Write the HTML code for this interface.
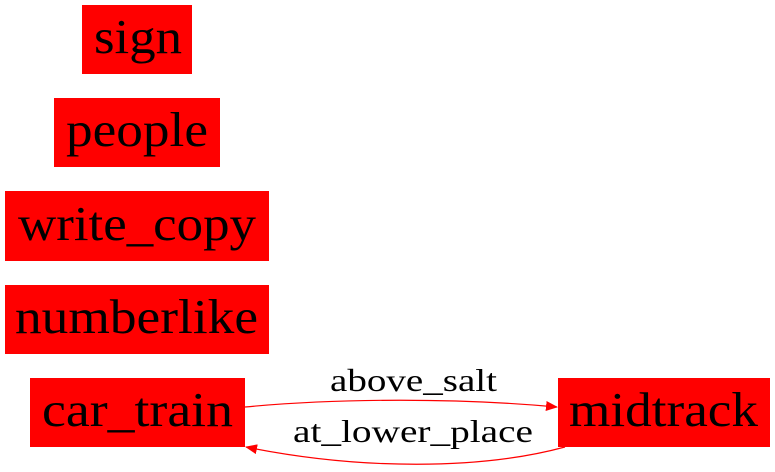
<!DOCTYPE html>
<html><head><meta charset="utf-8"><style>
html,body{margin:0;padding:0;background:#fff;}
svg{display:block;}
text{font-family:"Liberation Serif",serif;fill:#000;}
</style></head><body>
<svg width="775" height="472" viewBox="0 0 775 472">
<defs>
<marker id="ah" markerWidth="12" markerHeight="10" refX="11" refY="5" orient="auto" markerUnits="userSpaceOnUse">
<path d="M0,0 L12,5 L0,10 z" fill="#ff0000"/>
</marker>
</defs>
<g>
<rect x="82" y="5" width="110" height="69" fill="#ff0000"/>
<text x="94" y="53" font-size="49" textLength="88" lengthAdjust="spacingAndGlyphs">sign</text>
</g>
<g>
<rect x="54" y="98" width="166" height="69" fill="#ff0000"/>
<text x="66" y="146" font-size="49" textLength="142" lengthAdjust="spacingAndGlyphs">people</text>
</g>
<g>
<rect x="5" y="191" width="264" height="70" fill="#ff0000"/>
<text x="18" y="240" font-size="49" textLength="238" lengthAdjust="spacingAndGlyphs">write_copy</text>
</g>
<g>
<rect x="5" y="285" width="264" height="69" fill="#ff0000"/>
<text x="15" y="333" font-size="49" textLength="243" lengthAdjust="spacingAndGlyphs">numberlike</text>
</g>
<g>
<rect x="30" y="378" width="215" height="69" fill="#ff0000"/>
<text x="42" y="426" font-size="49" textLength="191" lengthAdjust="spacingAndGlyphs">car_train</text>
</g>
<g>
<rect x="558" y="378" width="212" height="69" fill="#ff0000"/>
<text x="569" y="426" font-size="49" textLength="189" lengthAdjust="spacingAndGlyphs">midtrack</text>
</g>
<g>
<path d="M245,407 C340,398 460,398 557,407" fill="none" stroke="#ff0000" stroke-width="1.2" marker-end="url(#ah)"/>
<text x="330" y="391" font-size="32" textLength="167" lengthAdjust="spacingAndGlyphs">above_salt</text>
</g>
<g>
<path d="M565,447 C480,470 360,470 246,447" fill="none" stroke="#ff0000" stroke-width="1.2" marker-end="url(#ah)"/>
<text x="293" y="442" font-size="32" textLength="240" lengthAdjust="spacingAndGlyphs">at_lower_place</text>
</g>
</svg>
</body></html>
